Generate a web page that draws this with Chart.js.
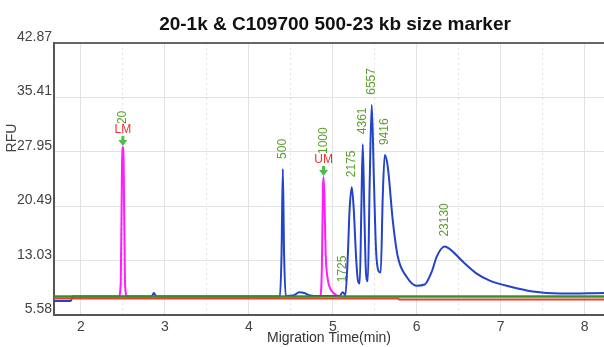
<!DOCTYPE html>
<html>
<head>
<meta charset="utf-8">
<title>20-1k & C109700 500-23 kb size marker</title>
<script src="https://cdn.jsdelivr.net/npm/chart.js@4"></script>
<style>
  html, body { margin: 0; padding: 0; background: #fff; }
  #chart { display: block; }
</style>
</head>
<body>
<canvas id="chart" width="604" height="347"></canvas>
<script>
const chartTitle = '20-1k & C109700 500-23 kb size marker';
const xTitle = 'Migration Time(min)';
const yTitle = 'RFU';
const xMin = 1.68, xMax = 8.23;
const yTicks = [5.58, 13.03, 20.49, 27.95, 35.41, 42.87];
const xTicks = [2, 2.5, 3, 3.5, 4, 4.5, 5, 5.5, 6, 6.5, 7, 7.5, 8];

// sample trace (blue)
const blueTime = [1.68, 1.88, 1.90, 2.84, 2.87, 2.90, 4.37, 4.39, 4.405, 4.42, 4.44, 4.54, 4.60, 4.66, 4.72, 4.78,
  5.08, 5.12, 5.15, 5.18, 5.20, 5.226, 5.25, 5.28, 5.30, 5.321, 5.34, 5.357, 5.375, 5.395, 5.417, 5.44, 5.464,
  5.49, 5.515, 5.545, 5.571, 5.595, 5.619, 5.655, 5.714, 5.774, 5.881, 6.0, 6.095, 6.179, 6.238, 6.333, 6.429,
  6.548, 6.714, 6.869, 7.107, 7.381, 7.702, 8.23];
const blueRfu = [7.5, 7.5, 8.1, 8.1, 8.6, 8.1, 8.1, 14, 25.6, 14, 8.2, 8.3, 8.7, 8.6, 8.3, 8.2,
  8.2, 8.7, 8.3, 14, 20, 23.1, 20, 13, 10.3, 9.9, 20, 29.0, 20, 11.5, 10.2, 24, 34.4,
  24, 14.5, 11.6, 11.4, 21.8, 27.5, 25.9, 18.6, 13.6, 10.8, 9.6, 9.76, 11.53, 13.59, 14.96, 14.27,
  12.9, 11.26, 10.3, 9.48, 8.8, 8.52, 8.6];

// marker trace (magenta)
const markerTime = [1.68, 2.45, 2.475, 2.49, 2.50, 2.51, 2.525, 2.55, 4.85, 4.87, 4.883, 4.89, 4.90, 4.915, 4.94, 4.97, 5.0, 5.04, 5.10, 8.23];
const markerRfu = [8.1, 8.1, 10, 26, 28.6, 26, 10, 8.1, 8.1, 12, 23, 24.5, 22, 14, 10.5, 9.2, 8.7, 8.3, 8.1, 8.1];

// baselines
const greenTime = [1.68, 8.23];
const greenRfu = [8.1, 8.1];
const redTime = [1.68, 5.78, 5.79, 8.23];
const redRfu = [7.85, 7.85, 7.7, 7.7];

// peak labels
const peakLabels = ['500', '1725', '2175', '4361', '6557', '9416', '23130'];
const peakTimes = [4.405, 5.12, 5.226, 5.357, 5.464, 5.619, 6.333];
const peakRfu = [25.6, 8.7, 23.1, 29.0, 34.4, 27.5, 14.96];

// lower / upper markers
const markerLabels = ['20', '1000'];
const markerNames = ['LM', 'UM'];
const markerTimes = [2.50, 4.89];
const markerPeaks = [28.6, 24.5];

function pts(xs, ys) {
    return xs.map((v, i) => ({ x: v, y: ys[i] }));
}

const annotate = {
    id: 'annotate',
    afterDatasetsDraw(chart) {
        const { ctx, scales: { x, y } } = chart;
        ctx.save();
        ctx.font = '12px "Liberation Sans", Arial, sans-serif';
        ctx.fillStyle = '#5b9e2d';
        ctx.textAlign = 'left';
        ctx.textBaseline = 'middle';
        peakLabels.forEach((lbl, i) => {
            const px = x.getPixelForValue(peakTimes[i]);
            const py = y.getPixelForValue(peakRfu[i]);
            ctx.save();
            ctx.translate(px, py - 10);
            ctx.rotate(-Math.PI / 2);
            ctx.fillText(lbl, 0, 0);
            ctx.restore();
        });
        markerLabels.forEach((lbl, i) => {
            const px = x.getPixelForValue(markerTimes[i]);
            const py = y.getPixelForValue(markerPeaks[i]);
            // arrow
            ctx.fillStyle = '#48c048';
            ctx.fillRect(px - 1.5, py - 11, 3, 5);
            ctx.beginPath();
            ctx.moveTo(px - 4.5, py - 7);
            ctx.lineTo(px + 4.5, py - 7);
            ctx.lineTo(px, py - 1);
            ctx.closePath();
            ctx.fill();
            // name
            ctx.fillStyle = '#ee3030';
            ctx.textAlign = 'center';
            ctx.fillText(markerNames[i], px, py - 17);
            // size
            ctx.fillStyle = '#5b9e2d';
            ctx.textAlign = 'left';
            ctx.save();
            ctx.translate(px, py - 23);
            ctx.rotate(-Math.PI / 2);
            ctx.fillText(lbl, 0, 0);
            ctx.restore();
        });
        ctx.restore();
    },
    afterDraw(chart) {
        const { ctx, chartArea } = chart;
        ctx.save();
        ctx.fillStyle = '#111';
        ctx.font = 'bold 19px "Liberation Sans", Arial, sans-serif';
        ctx.textAlign = 'center';
        ctx.textBaseline = 'middle';
        ctx.fillText(chartTitle, (chartArea.left + chartArea.right) / 2 + 6, 25);
        ctx.fillStyle = '#444';
        ctx.font = '14px "Liberation Sans", Arial, sans-serif';
        ctx.translate(12, 138);
        ctx.rotate(-Math.PI / 2);
        ctx.fillText(yTitle, 0, 0);
        ctx.restore();
    }
};

const ctx = document.getElementById('chart').getContext('2d');
const chart = new Chart(ctx, {
    type: 'line',
    data: {
        datasets: [
            { label: 'baseline', data: pts(greenTime, greenRfu), borderColor: '#2f922f', order: 0 },
            { label: 'reference', data: pts(redTime, redRfu), borderColor: '#e8402a', order: 1 },
            { label: 'sample', data: pts(blueTime, blueRfu), borderColor: '#2343c9', order: 2 },
            { label: 'marker', data: pts(markerTime, markerRfu), borderColor: '#ff1cff', order: 3 }
        ]
    },
    options: {
        responsive: false,
        animation: false,
        devicePixelRatio: 1,
        layout: { padding: { top: 43, left: 0, right: 0, bottom: 0 } },
        elements: {
            point: { radius: 0 },
            line: { borderWidth: 2, cubicInterpolationMode: 'monotone', fill: false }
        },
        plugins: {
            legend: { display: false },
            tooltip: { enabled: false }
        },
        scales: {
            x: {
                type: 'linear',
                min: xMin,
                max: xMax,
                afterBuildTicks: s => { s.ticks = xTicks.map(v => ({ value: v })); },
                afterFit: s => { s.height = 32; },
                grid: { color: '#e2e2e2', drawTicks: false },
                border: {
                    color: '#555', width: 2,
                    dash: c => (c.tick && c.tick.value % 1 !== 0) ? [2, 3] : []
                },
                ticks: {
                    autoSkip: false, maxRotation: 0, padding: 4,
                    color: '#444', font: { family: '"Liberation Sans", Arial', size: 14 },
                    callback: v => Number.isInteger(v) ? String(v) : ''
                },
                title: {
                    display: true, text: xTitle, color: '#333',
                    font: { family: '"Liberation Sans", Arial', size: 14 },
                    padding: { top: 0, bottom: 0 }
                }
            },
            y: {
                min: yTicks[0],
                max: yTicks[yTicks.length - 1],
                afterBuildTicks: s => { s.ticks = yTicks.map(v => ({ value: v })); },
                afterFit: s => { s.width = 54; },
                grid: {
                    drawTicks: false,
                    color: c => (c.tick && c.tick.value === 42.87) ? '#666' : '#e2e2e2',
                    lineWidth: c => (c.tick && c.tick.value === 42.87) ? 2 : 1
                },
                border: { color: '#555', width: 2 },
                ticks: {
                    autoSkip: false, padding: 2, labelOffset: -6,
                    color: '#444', font: { family: '"Liberation Sans", Arial', size: 14 },
                    callback: v => v.toFixed(2)
                }
            }
        }
    },
    plugins: [annotate]
});
</script>
</body>
</html>
